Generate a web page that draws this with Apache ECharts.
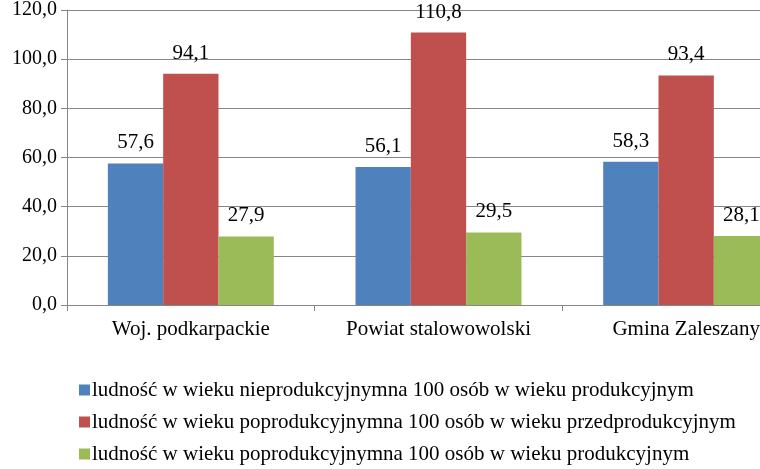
<!DOCTYPE html>
<html><head><meta charset="utf-8">
<script src="https://cdn.jsdelivr.net/npm/echarts@6/dist/echarts.min.js"></script>
<style>html,body{margin:0;padding:0;background:#fff;overflow:hidden;width:760px;height:469px}#c{width:810px;height:469px}</style>
</head><body><div id="c"></div>
<script>
const categories = ['Woj. podkarpackie', 'Powiat stalowowolski', 'Gmina Zaleszany'];
const seriesNames = [
  'ludność w wieku nieprodukcyjnymna 100 osób w wieku produkcyjnym',
  'ludność w wieku poprodukcyjnymna 100 osób w wieku przedprodukcyjnym',
  'ludność w wieku poprodukcyjnymna 100 osób w wieku produkcyjnym'
];
const nonProductive = [57.6, 56.1, 58.3];
const postPerPre = [94.1, 110.8, 93.4];
const postPerProductive = [27.9, 29.5, 28.1];
const colors = ['#4F81BD', '#C0504D', '#9BBB59'];
const fmt = v => v.toFixed(1).replace('.', ',');
const font = '"Liberation Serif", "Times New Roman", serif';
const chart = echarts.init(document.getElementById('c'));
const mk = (name, data, color) => ({
  name, type: 'bar', data, barGap: '0%', barCategoryGap: '33%',
  itemStyle: { color },
  label: { show: true, position: 'top', distance: 10, color: '#000', fontFamily: font, fontSize: 21,
           formatter: p => fmt(p.value) }
});
const legendTops = [379, 411, 443];
const legends = seriesNames.map((n, i) => ({
  orient: 'horizontal', left: 79, top: legendTops[i], padding: 0,
  itemWidth: 11, itemHeight: 11, itemGap: 0, icon: 'rect',
  textStyle: { fontFamily: font, fontSize: 21, lineHeight: 22, color: '#000', padding: [0, 0, 0, -3] },
  data: [n]
}));
chart.setOption({
  animation: false,
  textStyle: { fontFamily: font },
  grid: { left: 67, top: 7, right: 0, bottom: 164, containLabel: false },
  legend: legends,
  xAxis: {
    type: 'category', data: categories,
    axisLine: { lineStyle: { color: '#868686' } },
    axisTick: { show: true, length: 6, interval: 0, lineStyle: { color: '#868686' } },
    axisLabel: { color: '#000', fontFamily: font, fontSize: 21, margin: 14, interval: 0, hideOverlap: false }
  },
  yAxis: {
    type: 'value', min: 0, max: 120, interval: 20,
    axisLine: { show: true, lineStyle: { color: '#868686' } },
    axisTick: { show: true, length: 6, lineStyle: { color: '#868686' } },
    splitLine: { lineStyle: { color: '#868686' } },
    axisLabel: { color: '#000', fontFamily: font, fontSize: 20, margin: 10, formatter: v => fmt(v) }
  },
  series: [
    mk(seriesNames[0], nonProductive, colors[0]),
    mk(seriesNames[1], postPerPre, colors[1]),
    mk(seriesNames[2], postPerProductive, colors[2])
  ]
});
</script></body></html>
